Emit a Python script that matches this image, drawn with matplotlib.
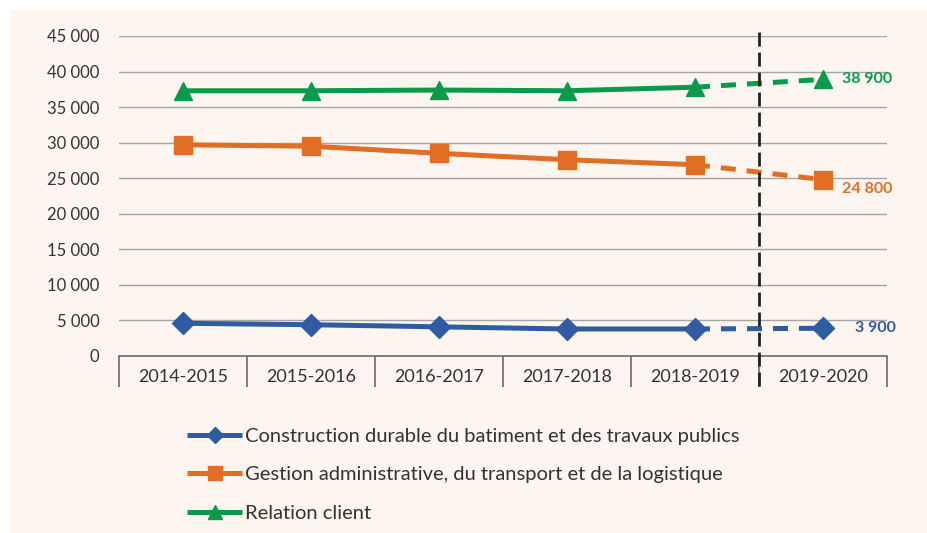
import matplotlib.pyplot as plt
from matplotlib.patches import Rectangle
from matplotlib.ticker import FuncFormatter, FixedLocator

annees = ["2014-2015", "2015-2016", "2016-2017", "2017-2018", "2018-2019", "2019-2020"]
construction = [4600, 4400, 4100, 3800, 3800, 3900]
gestion = [29700, 29500, 28500, 27600, 26900, 24800]
relation = [37300, 37300, 37400, 37300, 37800, 38900]

noms = [
    "Construction durable du batiment et des travaux publics",
    "Gestion administrative, du transport et de la logistique",
    "Relation client",
]

bleu = "#2F5BA3"
orange = "#E06E25"
vert = "#0B9A4B"
fond = "#FDF5F0"

plt.rcParams["font.family"] = ["Lato", "DejaVu Sans"]

fig = plt.figure(figsize=(9.27, 5.33), dpi=100, facecolor="white")
fig.patches.append(Rectangle((10 / 927, 0), 1, 1 - 10 / 533, transform=fig.transFigure,
                             facecolor=fond, edgecolor="none", zorder=-10))
ax = fig.add_axes([119 / 927, 1 - 356 / 533, 768 / 927, 320 / 533])
ax.set_facecolor(fond)

x = list(range(len(annees)))
series = [
    (construction, bleu, "D", 11, 0),
    (gestion, orange, "s", 13, -7),
    (relation, vert, "^", 13, 0),
]
decal_x = [23, 14, 14]
handles = []
for (vals, couleur, mk, ms, dy), nom, dx in zip(series, noms, decal_x):
    (h,) = ax.plot(x[:5], vals[:5], color=couleur, lw=3.6, marker=mk, ms=ms,
                   solid_capstyle="butt", zorder=3, label=nom)
    ax.plot(x[4:], vals[4:], color=couleur, lw=3.6, marker=mk, ms=ms,
            markevery=[1], dashes=(3, 2.2), zorder=3)
    handles.append(h)
    ax.annotate(f"{vals[-1]:,}".replace(",", " "), (x[-1], vals[-1]),
                xytext=(dx, dy), textcoords="offset points",
                color=couleur, fontsize=11.5, fontweight="bold", va="center", ha="left")

ax.set_xlim(-0.5, 5.5)
ax.set_ylim(0, 45000)
ax.set_yticks(range(0, 45001, 5000))
ax.yaxis.set_major_formatter(FuncFormatter(lambda v, p: f"{int(v):,}".replace(",", " ")))
ax.grid(axis="y", color="#A6A6A6", lw=1)
ax.set_axisbelow(True)
for s in ["top", "right", "left"]:
    ax.spines[s].set_visible(False)
ax.spines["bottom"].set_color("#6B6B6B")
ax.spines["bottom"].set_linewidth(1.2)

ax.xaxis.set_major_locator(FixedLocator([i - 0.5 for i in range(len(annees) + 1)]))
ax.xaxis.set_minor_locator(FixedLocator(x))
ax.set_xticklabels([])
ax.set_xticklabels(annees, minor=True)
ax.tick_params(axis="x", which="major", length=22, width=1.2, color="#6B6B6B")
ax.tick_params(axis="x", which="minor", length=0, pad=9, labelsize=13, labelcolor="#333333")
ax.tick_params(axis="y", length=0, pad=14, labelsize=12, labelcolor="#333333")

ax.axvline(4.5, ymin=-30 / 320, ymax=328 / 320, color="#222222", lw=2,
           dashes=(5, 2.2), clip_on=False, zorder=4)

fig.legend(handles=handles, loc="upper left", bbox_to_anchor=(187 / 927, 1 - 428 / 533),
           frameon=False, fontsize=14.5, labelcolor="#333333", handlelength=2.75,
           handletextpad=0.12, labelspacing=1.05, borderpad=0, borderaxespad=0,
           markerscale=0.75, numpoints=1)

fig.savefig("out.png", dpi=100, facecolor="white")
